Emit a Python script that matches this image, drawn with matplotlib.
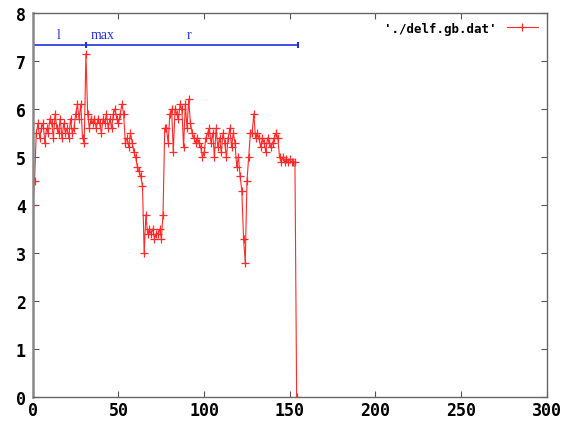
import numpy as np
import matplotlib
matplotlib.use("Agg")
import matplotlib.pyplot as plt

# delf values, one per sample (x = 0, 1, 2, ...)
delf = [
    4.0, 4.5, 5.5, 5.7, 5.4, 5.6, 5.7, 5.3, 5.6, 5.5,
    5.8, 5.7, 5.4, 5.9, 5.6, 5.5, 5.8, 5.4, 5.7, 5.5,
    5.6, 5.4, 5.8, 5.5, 5.6, 5.9, 6.1, 5.8, 6.1, 5.4,
    5.3, 7.15, 5.9, 5.6, 5.8, 5.7, 5.8, 5.6, 5.8, 5.7,
    5.5, 5.8, 5.7, 5.9, 5.6, 5.8, 5.6, 5.9, 6.0, 5.8,
    5.7, 5.9, 6.1, 5.9, 5.3, 5.4, 5.2, 5.5, 5.3, 5.1,
    5.0, 4.8, 4.7, 4.6, 4.4, 3.0, 3.8, 3.4, 3.5, 3.4,
    3.5, 3.3, 3.4, 3.4, 3.5, 3.3, 3.8, 5.6, 5.6, 5.3,
    5.9, 6.0, 5.1, 6.0, 5.9, 5.8, 6.1, 6.0, 5.2, 6.1,
    5.6, 6.2, 5.7, 5.5, 5.4, 5.3, 5.4, 5.3, 5.2, 5.0,
    5.1, 5.4, 5.5, 5.6, 5.3, 5.5, 5.0, 5.6, 5.2, 5.4,
    5.1, 5.5, 5.3, 5.0, 5.4, 5.6, 5.2, 5.5, 5.3, 4.8,
    5.0, 4.6, 4.3, 3.3, 2.8, 4.5, 5.0, 5.5, 5.5, 5.9,
    5.4, 5.5, 5.4, 5.2, 5.4, 5.3, 5.1, 5.4, 5.3, 5.2,
    5.3, 5.4, 5.5, 5.4, 5.0, 4.9, 5.0, 4.9, 4.95, 4.9,
    4.95, 4.9, 4.9, 4.9, 0.0,
]
x = np.arange(len(delf))

# l / max / r marker line
bar_y = 7.33
bar_x = [0, 31, 155]
bar_labels = ["l", "max", "r"]
label_x = [14, 34, 90]

xticks = [0, 50, 100, 150, 200, 250, 300]
yticks = [0, 1, 2, 3, 4, 5, 6, 7, 8]

fig = plt.figure(figsize=(5.66, 4.27), dpi=100)
ax = fig.add_axes([0.058, 0.068, 0.908, 0.899])

ax.plot(x, delf, color="#ff2a2a", lw=0.8, marker="+", ms=5.5, mew=0.9,
        label="'./delf.gb.dat'")

ax.plot([bar_x[0], bar_x[-1]], [bar_y, bar_y], color="#2030e0", lw=1.2)
ax.plot(bar_x, [bar_y] * len(bar_x), ls="none", marker="|", ms=5,
        mew=1.5, color="#2030e0")
for lx, lab in zip(label_x, bar_labels):
    ax.text(lx, bar_y + 0.08, lab, color="#2030e0", fontsize=10,
            family="Liberation Serif", ha="left", va="bottom")

ax.set_xlim(0, 300)
ax.set_ylim(0, 8)
ax.set_xticks(xticks)
ax.set_yticks(yticks)
ax.tick_params(direction="in", top=True, right=True, length=4,
               color="#555555", labelsize=12)
for lab in ax.get_xticklabels() + ax.get_yticklabels():
    lab.set_family("DejaVu Sans Mono")
    lab.set_fontweight("bold")
ax.tick_params(axis="x", pad=3)
ax.tick_params(axis="y", pad=5)
for s in ax.spines.values():
    s.set_color("#666666")
    s.set_linewidth(1.0)
ax.spines["left"].set_linewidth(1.8)
ax.spines["left"].set_color("#888888")

leg = ax.legend(loc="upper right", frameon=False, markerfirst=False,
                handlelength=2.5, borderaxespad=0.3,
                prop={"family": "DejaVu Sans Mono", "weight": "bold", "size": 9})

fig.savefig("out.png", dpi=100)
